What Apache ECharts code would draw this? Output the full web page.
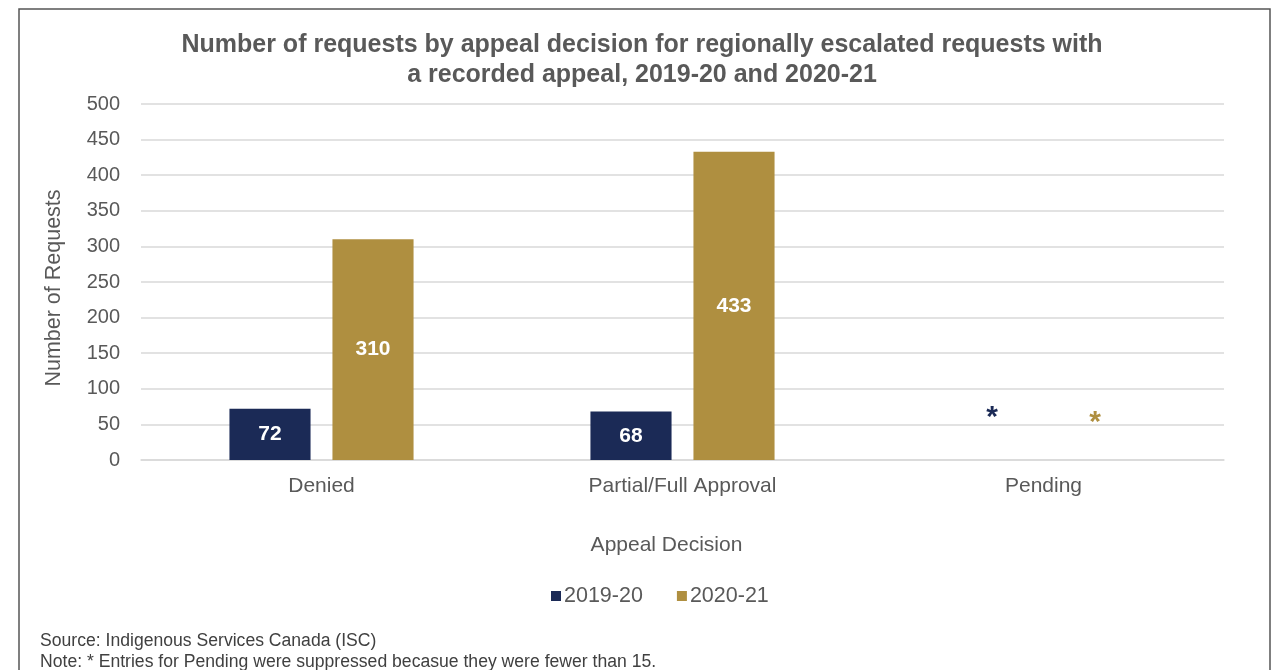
<!DOCTYPE html>
<html>
<head>
<meta charset="utf-8">
<script src="https://cdn.jsdelivr.net/npm/echarts@6/dist/echarts.min.js"></script>
<style>
  html, body { margin: 0; padding: 0; background: #fff; }
  #chart { width: 1277px; height: 670px; }
</style>
</head>
<body>
<div id="chart"></div>
<script>
// Appeal decisions for regionally escalated requests
const categories = ['Denied', 'Partial/Full Approval', 'Pending'];
const seriesNames = ['2019-20', '2020-21'];
const values2019 = [72, 68, null];   // null = suppressed (fewer than 15)
const values2020 = [310, 433, null];
const yTicks = [0, 50, 100, 150, 200, 250, 300, 350, 400, 450, 500];

const colors = ['#1b2a56', '#af8f40'];
const textGrey = '#595959';
const font = 'Liberation Sans, Arial, sans-serif';

// Suppressed entries are shown as an asterisk above the baseline
function buildData(vals, color, starOffset) {
  return vals.map(v => v === null
    ? { value: 0, label: { show: true, position: 'top', formatter: '*', color: color,
        fontSize: 30, fontWeight: 'bold', offset: [0, starOffset] } }
    : v);
}

const chart = echarts.init(document.getElementById('chart'));
chart.setOption({
  animation: false,
  textStyle: { fontFamily: font },
  title: {
    text: 'Number of requests by appeal decision for regionally escalated requests with\na recorded appeal, 2019-20 and 2020-21',
    left: 637, top: 25, textAlign: 'center',
    textStyle: { fontFamily: font, fontSize: 25, fontWeight: 'bold', color: textGrey, lineHeight: 30 }
  },
  graphic: [
    { type: 'rect', shape: { x: 19, y: 9, width: 1251, height: 700 },
      style: { fill: 'none', stroke: '#555', lineWidth: 1.5 }, silent: true },
    { type: 'text', left: 40, top: 631,
      style: { text: 'Source: Indigenous Services Canada (ISC)\nNote: * Entries for Pending were suppressed becasue they were fewer than 15.',
        font: '17.6px ' + font, fill: '#404040', lineHeight: 21 } }
  ],
  legend: {
    data: seriesNames, top: 580, left: 546,
    itemWidth: 10, itemHeight: 10, itemGap: 34,
    icon: 'rect',
    textStyle: { fontSize: 21.5, color: textGrey, fontFamily: font, padding: [0, 0, 0, -2] }
  },
  grid: { left: 141, right: 53, top: 104, bottom: 210 },
  xAxis: {
    type: 'category', data: categories,
    name: 'Appeal Decision', nameLocation: 'middle', nameGap: 75,
    nameTextStyle: { fontSize: 21, color: textGrey, fontFamily: font, padding: [0, 32, 0, 0] },
    axisLine: { show: true, lineStyle: { color: '#d9d9d9', width: 1.5 } },
    axisTick: { show: false },
    axisLabel: { fontSize: 21, color: textGrey, margin: 16, fontFamily: font }
  },
  yAxis: {
    type: 'value', min: yTicks[0], max: yTicks[yTicks.length - 1], interval: yTicks[1] - yTicks[0],
    name: 'Number of Requests', nameLocation: 'middle', nameGap: 76,
    nameTextStyle: { fontSize: 21.5, color: textGrey, fontFamily: font, padding: [0, 12, 0, 0] },
    axisLine: { show: false }, axisTick: { show: false },
    axisLabel: { fontSize: 20, color: textGrey, margin: 21, fontFamily: font },
    splitLine: { lineStyle: { color: '#d9d9d9', width: 1.5 } }
  },
  series: [
    {
      name: seriesNames[0], type: 'bar', data: buildData(values2019, colors[0], -22),
      itemStyle: { color: colors[0] },
      barGap: '27%', barCategoryGap: '49%',
      label: { show: true, position: 'inside', color: '#fff', fontSize: 21, fontWeight: 'bold', fontFamily: font }
    },
    {
      name: seriesNames[1], type: 'bar', data: buildData(values2020, colors[1], -17),
      itemStyle: { color: colors[1] },
      barGap: '27%', barCategoryGap: '49%',
      label: { show: true, position: 'inside', color: '#fff', fontSize: 21, fontWeight: 'bold', fontFamily: font }
    }
  ]
});
</script>
</body>
</html>
